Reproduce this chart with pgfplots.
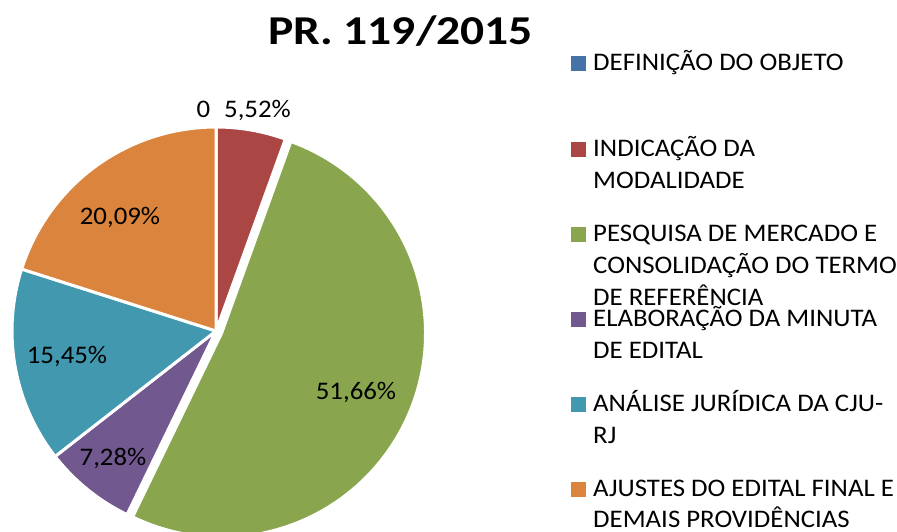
\documentclass[border=0pt]{standalone}
\usepackage{pgfplots}
\pgfplotsset{compat=1.18}
\usepackage{fontspec}
\setmainfont{Carlito}[FakeStretch=1.06]
\newfontfamily\titlefont{Carlito}[FakeStretch=1.16]

\definecolor{cblue}{HTML}{4572A7}
\definecolor{cred}{HTML}{AA4643}
\definecolor{cgreen}{HTML}{89A54E}
\definecolor{cpurple}{HTML}{71588F}
\definecolor{cteal}{HTML}{4198AF}
\definecolor{corange}{HTML}{DB843D}

% data (percent)
\def\vA{0}     % DEFINICAO DO OBJETO
\def\vB{5.52}  % INDICACAO DA MODALIDADE
\def\vC{51.66} % PESQUISA DE MERCADO ...
\def\vD{7.28}  % ELABORACAO DA MINUTA
\def\vE{15.45} % ANALISE JURIDICA
\def\vF{20.09} % AJUSTES DO EDITAL

\pgfmathsetmacro\aA{90}
\pgfmathsetmacro\aB{\aA-3.6*\vA}
\pgfmathsetmacro\aC{\aB-3.6*\vB}
\pgfmathsetmacro\aD{\aC-3.6*\vC}
\pgfmathsetmacro\aE{\aD-3.6*\vD}
\pgfmathsetmacro\aF{\aE-3.6*\vE}
\pgfmathsetmacro\aG{\aF-3.6*\vF}
\pgfmathsetmacro\mC{(\aC+\aD)/2}
\pgfmathsetmacro\gx{216+6*cos(\mC)}
\pgfmathsetmacro\gy{200+6*sin(\mC)}

\newcommand\lf{\fontsize{25.3}{32}\selectfont}

\begin{document}
\begin{tikzpicture}
\useasboundingbox (0,0) rectangle (897pt,531pt);
\begin{axis}[
  at={(0,0)}, anchor=south west,
  width=897pt, height=531pt, scale only axis,
  xmin=0, xmax=897, ymin=0, ymax=531,
  hide axis,
  clip=true,
]
% slices
\addplot[fill=cred, draw=white, line width=3pt, line join=round, domain=\aC:\aB, samples=30, variable=\t]
  ({216+204*cos(\t)},{200+204*sin(\t)}) -- (axis cs:216,200) -- cycle;
\addplot[fill=cpurple, draw=white, line width=3pt, line join=round, domain=\aE:\aD, samples=30, variable=\t]
  ({216+204*cos(\t)},{200+204*sin(\t)}) -- (axis cs:216,200) -- cycle;
\addplot[fill=cteal, draw=white, line width=3pt, line join=round, domain=\aF:\aE, samples=40, variable=\t]
  ({216+204*cos(\t)},{200+204*sin(\t)}) -- (axis cs:216,200) -- cycle;
\addplot[fill=corange, draw=white, line width=3pt, line join=round, domain=\aG:\aF, samples=40, variable=\t]
  ({216+204*cos(\t)},{200+204*sin(\t)}) -- (axis cs:216,200) -- cycle;
\addplot[fill=cgreen, draw=white, line width=3pt, line join=round, domain=\aD:\aC, samples=100, variable=\t]
  ({\gx+204*cos(\t)},{\gy+204*sin(\t)}) -- (axis cs:\gx,\gy) -- cycle;

% data labels
\node[anchor=base, inner sep=0, font=\lf] at (axis cs:203.5,413.7) {0};
\node[anchor=base, inner sep=0, font=\lf] at (axis cs:257.5,413.7) {5,52\%};
\node[anchor=base, inner sep=0, font=\lf] at (axis cs:356,131.7) {51,66\%};
\node[anchor=base, inner sep=0, font=\lf] at (axis cs:113,66) {7,28\%};
\node[anchor=base, inner sep=0, font=\lf] at (axis cs:67,168) {15,45\%};
\node[anchor=base, inner sep=0, font=\lf] at (axis cs:120,306) {20,09\%};

% title
\node[anchor=base, inner sep=0, font=\titlefont\fontsize{41}{48}\selectfont\bfseries] at (axis cs:400.5,486.7) {PR. 119/2015};

% legend
\node[anchor=south west, inner sep=0, minimum size=15pt, fill=cblue] at (axis cs:571,459.3) {};
\node[anchor=base west, inner sep=0, font=\lf] at (axis cs:593,460) {DEFINIÇÃO DO OBJETO};

\node[anchor=south west, inner sep=0, minimum size=15pt, fill=cred] at (axis cs:571,373.8) {};
\node[anchor=base west, inner sep=0, font=\lf] at (axis cs:593,374.5) {INDICAÇÃO DA};
\node[anchor=base west, inner sep=0, font=\lf] at (axis cs:593,342.5) {MODALIDADE};

\node[anchor=south west, inner sep=0, minimum size=15pt, fill=cgreen] at (axis cs:571,288.6) {};
\node[anchor=base west, inner sep=0, font=\lf] at (axis cs:593,289.3) {PESQUISA DE MERCADO E};
\node[anchor=base west, inner sep=0, font=\lf] at (axis cs:593,257.3) {CONSOLIDAÇÃO DO TERMO};
\node[anchor=base west, inner sep=0, font=\lf] at (axis cs:593,225.3) {DE REFERÊNCIA};

\node[anchor=south west, inner sep=0, minimum size=15pt, fill=cpurple] at (axis cs:571,203.5) {};
\node[anchor=base west, inner sep=0, font=\lf] at (axis cs:593,204.2) {ELABORAÇÃO DA MINUTA};
\node[anchor=base west, inner sep=0, font=\lf] at (axis cs:593,172.2) {DE EDITAL};

\node[anchor=south west, inner sep=0, minimum size=15pt, fill=cteal] at (axis cs:571,118.8) {};
\node[anchor=base west, inner sep=0, font=\lf] at (axis cs:593,119.5) {ANÁLISE JURÍDICA DA CJU-};
\node[anchor=base west, inner sep=0, font=\lf] at (axis cs:593,87.5) {RJ};

\node[anchor=south west, inner sep=0, minimum size=15pt, fill=corange] at (axis cs:571,34) {};
\node[anchor=base west, inner sep=0, font=\lf] at (axis cs:593,34.7) {AJUSTES DO EDITAL FINAL E};
\node[anchor=base west, inner sep=0, font=\lf] at (axis cs:593,3.5) {DEMAIS PROVIDÊNCIAS};
\end{axis}
\end{tikzpicture}
\end{document}
